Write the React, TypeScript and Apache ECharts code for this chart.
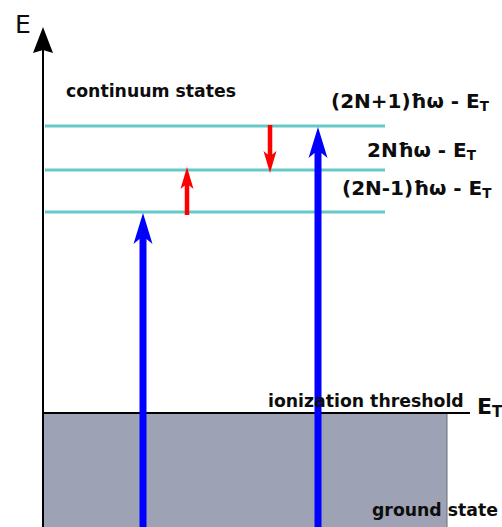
import React, { useEffect, useRef } from 'react';
import * as echarts from 'echarts';

// Energy scale (arbitrary units, 0 at the bottom of the drawing)
const bottomEnergy = 0;
const topEnergy = 487;
const xExtent = [0, 459];

// Continuum levels reached by N-1, N and N+1 photons
const levelLabels = ['(2N-1)ħω - E', '2Nħω - E', '(2N+1)ħω - E'];
const levelEnergies = [315, 357, 401];
const levelSpan = [2, 342];

// Ionization threshold and the bound (ground) state band
const thresholdEnergy = 114;
const thresholdSpan = [1, 427];
const groundSpan = [1, 404];

// Multi-photon absorption from the ground state: [x, from, to]
const absorptionArrows = [
  [100, 0, 314],
  [275, 0, 400],
];
// Extra photon absorbed / emitted inside the continuum: [x, from, to]
const photonArrows = [
  [144, 312, 360],
  [227, 402, 354],
];

const FONT = 'DejaVu Sans, Verdana, sans-serif';
const INK = '#0d0d0d';

function arrowRenderer(shaftW: number, headW: number, headH: number, color: string) {
  return (_params: any, api: any) => {
    const x = api.value(0);
    const a = api.coord([x, api.value(1)]);
    const b = api.coord([x, api.value(2)]);
    const cx = a[0];
    const dir = b[1] < a[1] ? -1 : 1;
    const tipY = b[1];
    const baseY = tipY - dir * headH;
    const notchY = tipY - dir * headH * 0.84;
    const s = shaftW / 2;
    const h = headW / 2;
    return {
      type: 'polygon',
      shape: {
        points: [
          [cx - s, a[1]],
          [cx - s, notchY],
          [cx - h, baseY],
          [cx, tipY],
          [cx + h, baseY],
          [cx + s, notchY],
          [cx + s, a[1]],
        ],
      },
      style: { fill: color },
    };
  };
}

function hLineRenderer(width: number, color: string) {
  return (_params: any, api: any) => {
    const p0 = api.coord([api.value(0), api.value(2)]);
    const p1 = api.coord([api.value(1), api.value(2)]);
    return {
      type: 'line',
      shape: { x1: p0[0], y1: p0[1], x2: p1[0], y2: p1[1] },
      style: { stroke: color, lineWidth: width },
    };
  };
}

function subscriptLabel(main: string, x: number, y: number, size: number, subSize: number) {
  return {
    type: 'text',
    x,
    y,
    z: 100,
    style: {
      text: `{m|${main}}{s|T}`,
      align: 'left',
      verticalAlign: 'middle',
      rich: {
        m: { fontFamily: FONT, fontWeight: 'bold', fontSize: size, fill: INK, lineHeight: size + 4 },
        s: {
          fontFamily: FONT,
          fontWeight: 'bold',
          fontSize: subSize,
          fill: INK,
          lineHeight: subSize,
          verticalAlign: 'bottom',
        },
      },
    },
  };
}

function plainLabel(text: string, x: number, y: number, size: number, weight = 'bold') {
  return {
    type: 'text',
    x,
    y,
    z: 100,
    style: {
      text,
      fontFamily: FONT,
      fontWeight: weight,
      fontSize: size,
      fill: INK,
      align: 'left',
      verticalAlign: 'middle',
    },
  };
}

export default function App() {
  const ref = useRef<HTMLDivElement>(null);

  useEffect(() => {
    document.body.style.margin = '0';
    if (!ref.current) return;
    const chart = echarts.init(ref.current, undefined, { renderer: 'svg' });

    const levelData = levelEnergies.map((e) => [levelSpan[0], levelSpan[1], e]);
    const labelPos = [
      [342, 188],
      [367, 150],
      [331, 101],
    ];

    chart.setOption({
      animation: false,
      backgroundColor: '#ffffff',
      grid: { left: 43, right: 0, top: 40, bottom: 0, containLabel: false },
      xAxis: {
        type: 'value',
        min: xExtent[0],
        max: xExtent[1],
        show: false,
      },
      yAxis: {
        type: 'value',
        min: bottomEnergy,
        max: topEnergy,
        axisLine: {
          show: true,
          onZero: false,
          symbol: ['none', 'path://M10,0 L20,26 L10,23 L0,26 Z'],
          symbolSize: [20, 26],
          lineStyle: { color: '#000000', width: 2 },
        },
        axisTick: { show: false },
        axisLabel: { show: false },
        splitLine: { show: false },
      },
      series: [
        {
          name: 'ground state',
          type: 'custom',
          z: 1,
          renderItem: (_p: any, api: any) => {
            const tl = api.coord([api.value(0), api.value(3)]);
            const br = api.coord([api.value(1), api.value(2)]);
            return {
              type: 'group',
              children: [
                {
                  type: 'rect',
                  shape: { x: tl[0], y: tl[1], width: br[0] - tl[0], height: br[1] - tl[1] },
                  style: { fill: '#9da2b4' },
                },
                {
                  type: 'line',
                  shape: { x1: br[0], y1: tl[1], x2: br[0], y2: br[1] },
                  style: { stroke: '#6b6e78', lineWidth: 1 },
                },
              ],
            };
          },
          data: [[groundSpan[0], groundSpan[1], bottomEnergy, thresholdEnergy]],
        },
        {
          name: 'ionization threshold',
          type: 'custom',
          z: 2,
          renderItem: hLineRenderer(2, '#000000'),
          data: [[thresholdSpan[0], thresholdSpan[1], thresholdEnergy]],
        },
        {
          name: 'continuum levels',
          type: 'custom',
          z: 3,
          renderItem: hLineRenderer(3, '#66c9c9'),
          data: levelData,
        },
        {
          name: 'multi-photon absorption',
          type: 'custom',
          z: 4,
          renderItem: arrowRenderer(7, 19, 31, '#0000ff'),
          data: absorptionArrows,
        },
        {
          name: 'photon absorption / emission',
          type: 'custom',
          z: 5,
          renderItem: arrowRenderer(4.5, 13, 22, '#ff0000'),
          data: photonArrows,
        },
      ],
      graphic: [
        plainLabel('E', 15, 24, 25, 'normal'),
        plainLabel('continuum states', 66, 91, 17.3),
        ...levelLabels.map((t, i) => subscriptLabel(t, labelPos[i][0], labelPos[i][1], 20, 13.5)),
        plainLabel('ionization threshold', 268, 401, 17.3),
        subscriptLabel('E', 477, 406, 22, 15),
        plainLabel('ground state', 372, 510, 17.3),
      ],
    });

    return () => chart.dispose();
  }, []);

  return <div ref={ref} style={{ width: 502, height: 527 }} />;
}
